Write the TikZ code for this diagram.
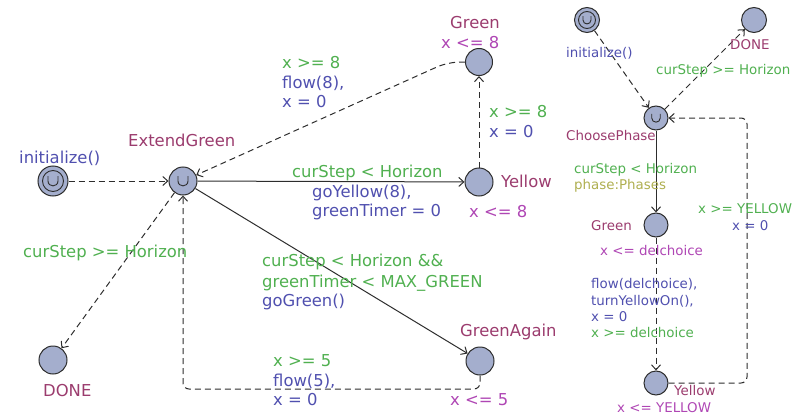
\documentclass[tikz,border=0pt]{standalone}
\usepackage{fontspec}
\setmainfont{DejaVu Sans}
\usetikzlibrary{arrows.meta}
\definecolor{namec}{RGB}{155,60,110}
\definecolor{guardc}{RGB}{80,176,80}
\definecolor{syncc}{RGB}{80,80,175}
\definecolor{invc}{RGB}{175,70,180}
\definecolor{selc}{RGB}{175,175,80}
\definecolor{nodefill}{RGB}{164,174,205}
\definecolor{linec}{RGB}{45,45,45}
\tikzset{
  loc/.style={circle,draw=linec,fill=nodefill,line width=1pt,minimum size=28pt,inner sep=0pt},
  sloc/.style={loc,minimum size=24pt},
  edge/.style={draw=linec,line width=1pt,-{Straight Barb[length=5pt,width=9pt]}},
  dedge/.style={edge,dash pattern=on 6pt off 4pt},
  big/.style={anchor=base west,inner sep=0pt,font=\fontsize{16.4}{20}\selectfont},
  small/.style={anchor=base west,inner sep=0pt,font=\fontsize{13.4}{16.5}\selectfont},
  umark/.style={draw=linec,line width=0.9pt},
}
\newcommand{\commitU}[2]{\draw[umark,shift={(#1.center)},scale=#2] (-5,-5) -- (-5,0) .. controls (-5,6.5) and (5,6.5) .. (5,0) -- (5,-5);}
\begin{document}
\begin{tikzpicture}[x=1pt,y=-1pt]
\useasboundingbox (0,0) rectangle (798,415);
% ---------- left automaton ----------
\node[loc,minimum size=30pt] (init1) at (53,181) {};
\draw[umark] (init1.center) circle[radius=10.5pt];
\commitU{init1}{1}
\node[loc] (eg) at (183,181) {};
\commitU{eg}{1}
\node[loc,minimum size=27pt] (gt) at (479,62) {};
\node[loc] (yl) at (479,182) {};
\node[loc] (ga) at (480,361) {};
\node[loc] (done1) at (53,360) {};
\coordinate (bot) at (300,389);

\draw[dedge] (init1) -- (eg);
\draw[edge] (eg) -- (yl);
\draw[edge] (eg) -- (ga);
\draw[dedge] (eg) -- (done1);
\draw[dedge] (yl) -- (gt);
\draw[dedge,rounded corners=12pt] (gt.west) -- (448,62) -- (eg);
\draw[dedge,rounded corners=6pt] (ga.south) -- (ga.south |- bot) -| (eg.south);

\node[big,text=syncc] (t1) at (19,163) {initialize()};
\node[big,text=namec] (t2) at (128,146) {ExtendGreen};
\node[big,text=guardc] (t3) at (23,257) {curStep >= Horizon};
\node[big,text=namec] (t4) at (43,396) {DONE};
\node[big,text=namec] (t5) at (450,28) {Green};
\node[big,text=invc] (t6) at (441,48) {x <= 8};
\node[big,text=guardc] (t7) at (282,68) {x >= 8};
\node[big,text=syncc] (t8) at (282,88) {flow(8),};
\node[big,text=syncc] (t9) at (282,107) {x = 0};
\node[big,text=guardc] (t10) at (489,117) {x >= 8};
\node[big,text=syncc] (t11) at (489,137) {x = 0};
\node[big,text=guardc] (t12) at (292,177) {curStep < Horizon};
\node[big,text=syncc] (t13) at (312,197) {goYellow(8),};
\node[big,text=syncc] (t14) at (312,216) {greenTimer = 0};
\node[big,text=namec] (t15) at (501,187) {Yellow};
\node[big,text=invc] (t16) at (469,217) {x <= 8};
\node[big,text=guardc] (t17) at (262,266) {curStep < Horizon \&\&};
\node[big,text=guardc] (t18) at (262,287) {greenTimer < MAX\_GREEN};
\node[big,text=syncc] (t19) at (262,306) {goGreen()};
\node[big,text=namec] (t20) at (460,336) {GreenAgain};
\node[big,text=guardc] (t21) at (273,366) {x >= 5};
\node[big,text=syncc] (t22) at (273,386) {flow(5),};
\node[big,text=syncc] (t23) at (273,405) {x = 0};
\node[big,text=invc] (t24) at (450,405) {x <= 5};
% ---------- right automaton ----------
\node[loc,minimum size=25pt] (init2) at (587,20) {};
\draw[umark] (init2.center) circle[radius=8.5pt];
\commitU{init2}{0.8}
\node[loc,minimum size=25pt] (done2) at (754,20) {};
\node[sloc] (cp) at (656,118) {};
\commitU{cp}{0.85}
\node[sloc] (g2) at (656,225) {};
\node[sloc] (y2) at (656,383) {};
\coordinate (rx) at (747,250);

\draw[dedge] (init2) -- (cp);
\draw[dedge] (cp) -- (done2);
\draw[edge] (cp) -- (g2);
\draw[dedge] (g2) -- (y2);
\draw[dedge,rounded corners=6pt] (y2.east) -- (y2.east -| rx) -- (cp.east -| rx) -- (cp.east);

\node[small,text=syncc] (r1) at (566,57) {initialize()};
\node[small,text=namec] (r2) at (730,49) {DONE};
\node[small,text=guardc] (r3) at (656,74) {curStep >= Horizon};
\node[small,text=namec] (r4) at (566,140) {ChoosePhase};
\node[small,text=guardc] (r5) at (574,173) {curStep < Horizon};
\node[small,text=selc] (r6) at (574,189) {phase:Phases};
\node[small,text=namec] (r7) at (591,230) {Green};
\node[small,text=invc] (r8) at (600,255) {x <= delchoice};
\node[small,text=syncc] (r9) at (591,288) {flow(delchoice),};
\node[small,text=syncc] (r10) at (591,305) {turnYellowOn(),};
\node[small,text=syncc] (r11) at (591,321) {x = 0};
\node[small,text=guardc] (r12) at (591,337) {x >= delchoice};
\node[small,text=guardc] (r13) at (698,213) {x >= YELLOW};
\node[small,text=syncc] (r14) at (732,230) {x = 0};
\node[small,text=namec] (r15) at (674,395) {Yellow};
\node[small,text=invc] (r16) at (617,412) {x <= YELLOW};
\end{tikzpicture}
\end{document}
